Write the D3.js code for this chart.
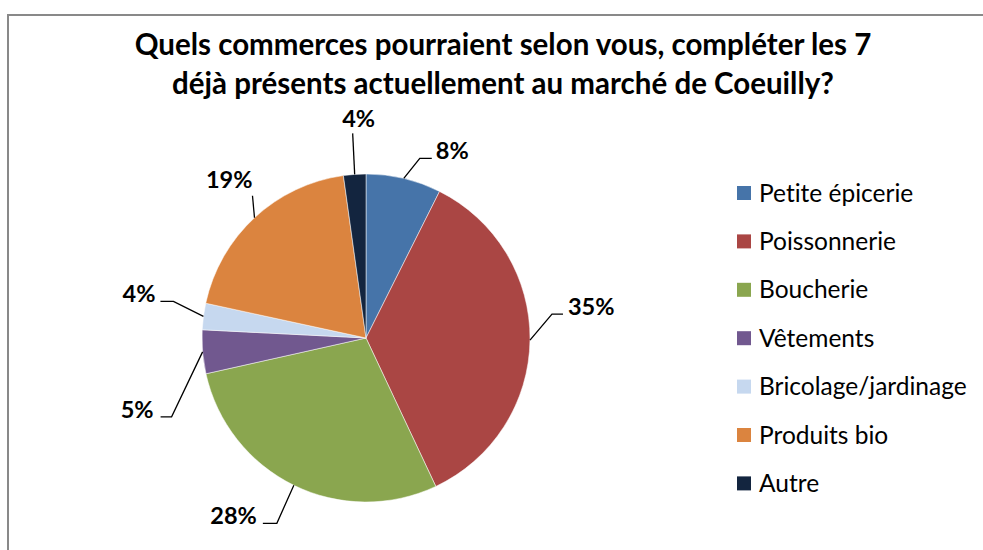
<html>
<head>
<meta charset="utf-8">
<script src="https://cdnjs.cloudflare.com/ajax/libs/d3/7.8.5/d3.min.js"></script>
<style>
body { margin: 0; background: white; }
svg { display: block; font-family: Lato, 'Noto Sans', sans-serif; font-variant-ligatures: none; }
</style>
</head>
<body>
<svg width="983" height="550"></svg>
<script>
// data
const categories = ["Petite épicerie", "Poissonnerie", "Boucherie", "Vêtements",
                    "Bricolage/jardinage", "Produits bio", "Autre"];
const shares = [7.4, 35.6, 28.5, 4.3, 2.6, 19.4, 2.2];
const shareLabels = ["8%", "35%", "28%", "5%", "4%", "19%", "4%"];
const titleLines = ["Quels commerces pourraient selon vous, compléter les 7",
                    "déjà présents actuellement au marché de Coeuilly?"];

const colors = ["#4674a9", "#aa4644", "#8aa64f", "#71588f", "#c6d8ef", "#db843f", "#13253f"];

// leader line layout (offsets from the slice edge)
const leaders = [
  {dx: 16, dy: -20, h: 12, tx: 4, ty: 0.5, anchor: "start"},
  {dx: 22, dy: -26, h: 11, tx: 5, ty: 1, anchor: "start"},
  {dx: -17, dy: 38, h: -14, tx: -6, ty: 1, anchor: "end"},
  {dx: -31, dy: 65, h: -11, tx: -7, ty: 1, anchor: "end"},
  {dx: -30, dy: -15, h: -13, tx: -5, ty: 0.5, anchor: "end"},
  {dx: -2, dy: -22, h: 0, tx: 0, ty: -8, anchor: "end"},
  {dx: -2, dy: -41, h: 0, tx: 6, ty: -6, anchor: "middle"}
];

const svg = d3.select("svg");

// chart frame
svg.append("rect")
  .attr("x", 8).attr("y", 15)
  .attr("width", 990).attr("height", 560)
  .attr("fill", "none")
  .attr("stroke", "#898989")
  .attr("stroke-width", 2);

// title
svg.append("g")
  .selectAll("text")
  .data(titleLines)
  .enter()
  .append("text")
  .attr("x", 503)
  .attr("y", (d, i) => 55 + i * 39)
  .attr("text-anchor", "middle")
  .style("font-size", "29.5px")
  .style("font-weight", "bold")
  .text(d => d);

const cx = 366, cy = 338, r = 164;
const color = d3.scaleOrdinal().domain(categories).range(colors);

const pie = d3.pie().sort(null).value(d => d.v);
const arcs = pie(categories.map((c, i) => ({c: c, v: shares[i], i: i})));
const arc = d3.arc().innerRadius(0).outerRadius(r);

const g = svg.append("g").attr("transform", `translate(${cx},${cy})`);

g.selectAll("path")
  .data(arcs)
  .enter()
  .append("path")
  .attr("d", arc)
  .attr("fill", d => color(d.data.c))
  .attr("stroke", "white")
  .attr("stroke-width", 0.5);

// leader lines + labels
arcs.forEach((d, i) => {
  const a = (d.startAngle + d.endAngle) / 2;
  const x0 = r * Math.sin(a), y0 = -r * Math.cos(a);
  const L = leaders[i];
  const x1 = x0 + L.dx, y1 = y0 + L.dy, x2 = x1 + L.h;
  g.append("path")
    .attr("d", d3.line()([[x0, y0], [x1, y1], [x2, y1]]))
    .attr("fill", "none")
    .attr("stroke", "black")
    .attr("stroke-width", 1.3);
  g.append("text")
    .attr("x", x2 + L.tx)
    .attr("y", y1 + L.ty)
    .attr("text-anchor", L.anchor)
    .style("font-size", "23.5px")
    .style("font-weight", "bold")
    .text(shareLabels[i]);
});

// legend
const leg = svg.append("g")
  .selectAll("g")
  .data(categories)
  .enter()
  .append("g")
  .attr("transform", (d, i) => `translate(737,${193 + i * 48.4})`);

leg.append("rect")
  .attr("x", 0).attr("y", -7)
  .attr("width", 14).attr("height", 14)
  .attr("fill", d => color(d));

leg.append("text")
  .attr("x", 22)
  .attr("y", 8.5)
  .style("font-size", "24.5px")
  .text(d => d);
</script>
</body>
</html>
